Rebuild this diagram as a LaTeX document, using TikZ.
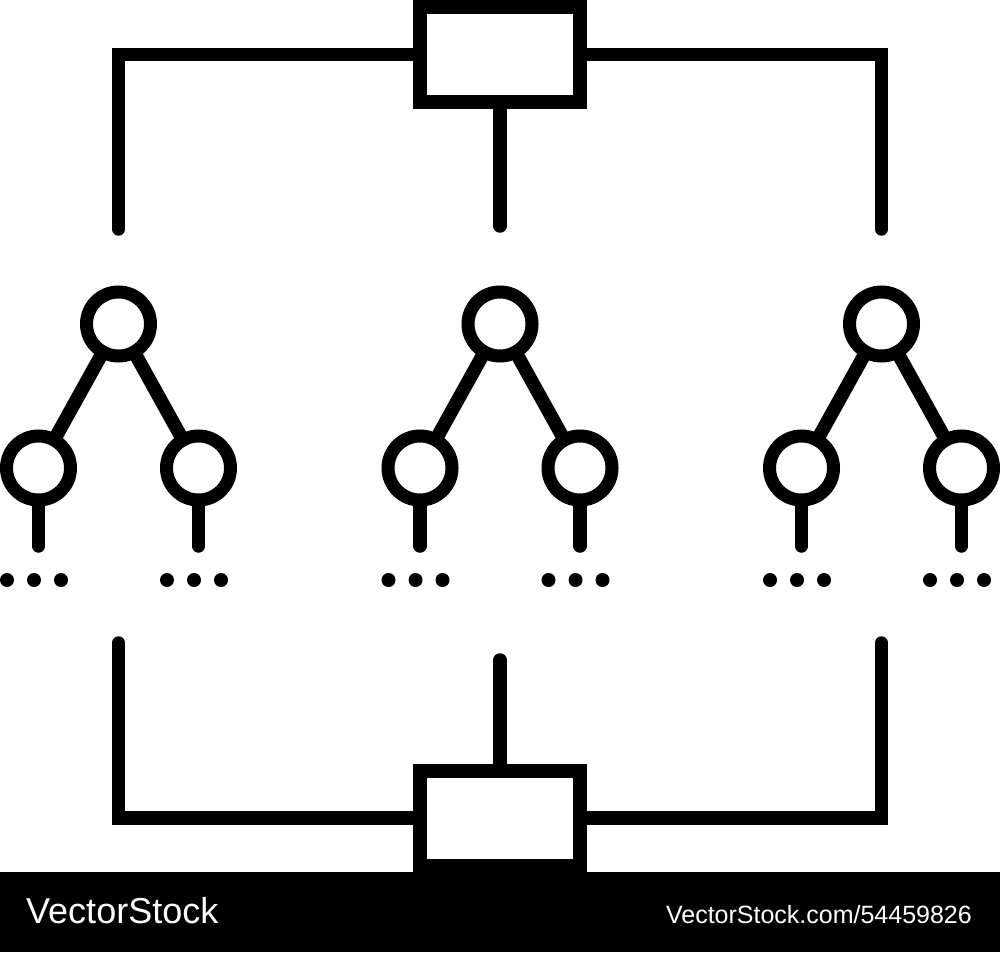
\documentclass[tikz,border=0pt]{standalone}
\usepackage{fontspec}
\setmainfont{Liberation Sans}
\begin{document}
\begin{tikzpicture}[x=1pt,y=-1pt,
  wire/.style={line width=13.5pt,line cap=round,line join=miter},
  boxnode/.style={draw,line width=14pt,minimum width=160pt,minimum height=95pt,inner sep=0pt,fill=white},
  treenode/.style={draw,circle,line width=13pt,minimum size=64pt,inner sep=0pt},
  dotnode/.style={fill,circle,minimum size=14pt,inner sep=0pt},
  banner/.style={fill=black,draw=none}]
\useasboundingbox (0,0) rectangle (1000,952);
% boxes
\node[boxnode] (topbox) at (500,54.5) {};
\node[boxnode] (botbox) at (500,818) {};
% free ends
\coordinate (tl) at (118.5,229);
\coordinate (tm) at (500,226);
\coordinate (tr) at (881.5,229);
\coordinate (bl) at (118.5,643);
\coordinate (bm) at (500,660);
\coordinate (br) at (881.5,643);
\draw[wire] (topbox.west) -| (tl);
\draw[wire] (topbox.east) -| (tr);
\draw[wire] (topbox.south) -- (tm);
\draw[wire] (botbox.west) -| (bl);
\draw[wire] (botbox.east) -| (br);
\draw[wire] (botbox.north) -- (bm);
% trees
\foreach \t/\x in {a/118.5,b/500,c/881.5}{
  \node[treenode] (\t r) at (\x,324) {};
  \node[treenode] (\t l) at (\x-80,468) {};
  \node[treenode] (\t g) at (\x+80,468) {};
  \draw[wire] (\t r) -- (\t l);
  \draw[wire] (\t r) -- (\t g);
  \coordinate (\t ls) at (\x-80,546);
  \coordinate (\t gs) at (\x+80,546);
  \draw[wire] (\t l.south) -- (\t ls);
  \draw[wire] (\t g.south) -- (\t gs);
  \foreach \c/\cx in {l/-80,g/80}{
    \node[dotnode] (\t\c d1) at (\x+\cx-31.5,580) {};
    \node[dotnode] (\t\c d2) at (\x+\cx-4.5,580) {};
    \node[dotnode] (\t\c d3) at (\x+\cx+22.5,580) {};
  }
}
% banner
\fill[banner] (0,872) rectangle (1000,952);
\node[anchor=base west,text=white,inner sep=0pt,font=\fontsize{36}{36}\selectfont] (brand) at (26,923) {VectorStock};
\node[anchor=base east,text=white,inner sep=0pt,font=\fontsize{25}{25}\selectfont] (url) at (972,923) {VectorStock.com/54459826};
\end{tikzpicture}
\end{document}
